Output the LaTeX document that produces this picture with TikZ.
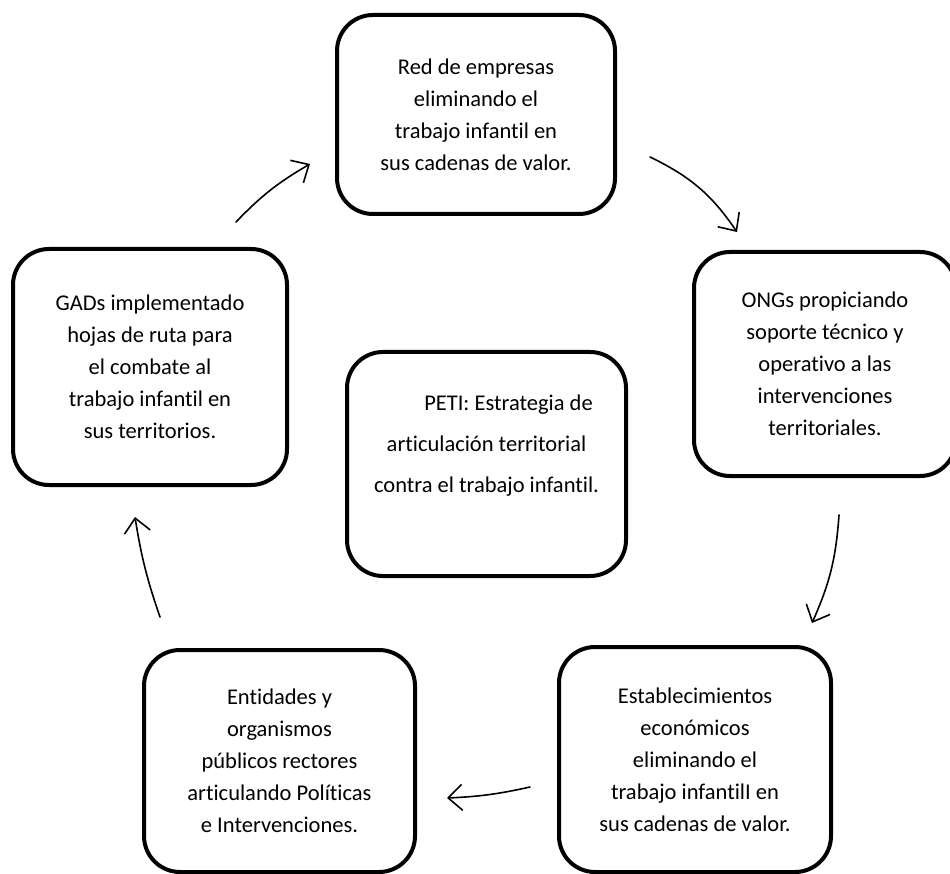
\documentclass[tikz,border=0pt]{standalone}
\usepackage{fontspec}
\setmainfont{Carlito}[Ligatures=NoCommon]
\usetikzlibrary{arrows.meta}
\tikzset{
  caja/.style={draw, line width=4pt, rounded corners=36pt, align=center, inner sep=0pt,
    font=\fontsize{22.5}{32}\selectfont},
  flecha/.style={line width=1.6pt, line cap=round, -{Straight Barb[length=14pt,width=26pt]}, bend left=#1},
  flecha/.default=8
}
\begin{document}
\begin{tikzpicture}[x=1pt,y=-1pt]
\useasboundingbox (0,0) rectangle (950,874);
% cajas
\node[caja, minimum width=278pt, minimum height=199pt] (red) at (476,114.5)
  {Red de empresas\\eliminando el\\trabajo infantil en\\sus cadenas de valor.};
\node[caja, minimum width=262pt, minimum height=224pt] (ongs) at (825,364)
  {ONGs propiciando\\soporte técnico y\\operativo a las\\intervenciones\\territoriales.};
\node[caja, minimum width=272pt, minimum height=225pt] (estab) at (695,759.5)
  {Establecimientos\\económicos\\eliminando el\\trabajo infantilI en\\sus cadenas de valor.};
\node[caja, minimum width=271pt, minimum height=222pt] (entid) at (279.5,761)
  {Entidades y\\organismos\\públicos rectores\\articulando Políticas\\e Intervenciones.};
\node[caja, minimum width=274pt, minimum height=236pt] (gads) at (150,367)
  {GADs implementado\\hojas de ruta para\\el combate al\\trabajo infantil en\\sus territorios.};
\node[caja, minimum width=279pt, minimum height=224pt, font=\fontsize{22.5}{41}\selectfont] (peti) at (486.5,464)
  {\hspace*{44pt}PETI: Estrategia de\\articulación territorial\\contra el trabajo infantil.\\\mbox{}};
% flechas
\coordinate (f1a) at (236,222); \coordinate (f1b) at (310,164);
\coordinate (f2a) at (650,157); \coordinate (f2b) at (737,232);
\coordinate (f3a) at (839,515); \coordinate (f3b) at (812,623);
\coordinate (f4a) at (530,787); \coordinate (f4b) at (447,798);
\coordinate (f5a) at (160,617); \coordinate (f5b) at (135,517);
\draw[flecha] (f1a) to (f1b);
\draw[flecha=15] (f2a) to (f2b);
\draw[flecha=10] (f3a) to (f3b);
\draw[flecha=5] (f4a) to (f4b);
\draw[flecha=5] (f5a) to (f5b);
\end{tikzpicture}
\end{document}
